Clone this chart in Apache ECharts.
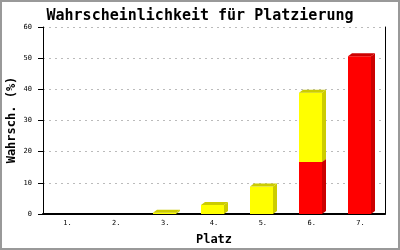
<!DOCTYPE html>
<html>
<head>
<meta charset="utf-8">
<script src="https://cdn.jsdelivr.net/npm/echarts@6/dist/echarts.min.js"></script>
<style>html,body{margin:0;padding:0;background:#fff}#c{width:400px;height:250px}</style>
</head>
<body>
<div id="c"></div>
<script>
const categories = ['1.', '2.', '3.', '4.', '5.', '6.', '7.'];
const redValues = [0, 0, 0, 0, 0, 16.7, 50.6];
const yellowValues = [0, 0, 0.4, 2.9, 8.8, 22.2, 0];
const yMin = 0, yMax = 60, yStep = 10;
const yAxisTitle = 'Wahrsch. (%)';

const redData = categories.map((c, i) => [i, 0, redValues[i]]);
const yellowData = categories.map((c, i) => [i, redValues[i], redValues[i] + yellowValues[i]]);

function makeRender(face, dark) {
  return function (params, api) {
    const x = api.value(0), lo = api.value(1), hi = api.value(2);
    if (!(hi > lo)) return;
    const p0 = api.coord([x, lo]);
    const p1 = api.coord([x, hi]);
    const band = api.size([1, 0])[0];
    const w = Math.round(band * 0.47);
    const left = Math.round(p0[0] - w / 2 - 1);
    const dx = 4, dy = 3;
    const yb = p0[1], yt = p1[1];
    return {
      type: 'group',
      children: [
        { type: 'rect', shape: { x: left, y: yt, width: w, height: yb - yt }, style: { fill: face } },
        { type: 'polygon', shape: { points: [[left + w, yt], [left + w + dx, yt - dy], [left + w + dx, yb - dy], [left + w, yb]] }, style: { fill: dark } },
        { type: 'polygon', shape: { points: [[left, yt], [left + dx, yt - dy], [left + w + dx, yt - dy], [left + w, yt]] }, style: { fill: dark } }
      ]
    };
  };
}

const chart = echarts.init(document.getElementById('c'), null, { renderer: 'canvas' });
const mono = 'DejaVu Sans Mono';
chart.setOption({
  animation: false,
  backgroundColor: '#fff',
  title: {
    text: 'Wahrscheinlichkeit für Platzierung',
    left: 'center', top: 4,
    textStyle: { fontFamily: mono, fontSize: 15, fontWeight: 'bold', color: '#000' }
  },
  graphic: [{
    type: 'rect', silent: true, z: 100,
    shape: { x: 1, y: 1, width: 398, height: 248 },
    style: { fill: 'none', stroke: '#999', lineWidth: 2 }
  }, {
    type: 'text', silent: true, x: 12, y: 120, rotation: Math.PI / 2,
    style: { text: yAxisTitle, fontFamily: mono, fontSize: 12, fontWeight: 'bold', fill: '#000', align: 'center', verticalAlign: 'middle' }
  }],
  grid: { left: 43, right: 15, top: 27, bottom: 36, containLabel: false, outerBoundsMode: 'none' },
  xAxis: {
    type: 'category', data: categories,
    name: 'Platz', nameLocation: 'middle', nameGap: 20,
    nameTextStyle: { fontFamily: mono, fontSize: 12, fontWeight: 'bold', color: '#000' },
    axisLine: { lineStyle: { color: '#000', width: 2 } },
    axisTick: { show: false },
    axisLabel: { fontFamily: mono, fontSize: 7, color: '#000', margin: 6 },
    splitLine: { show: false }
  },
  yAxis: [{
    type: 'value', min: yMin, max: yMax, interval: yStep,
    axisLine: { show: true, lineStyle: { color: '#000', width: 1 } },
    axisTick: { show: true, length: 5, lineStyle: { color: '#000' } },
    axisLabel: { fontFamily: mono, fontSize: 7, color: '#000', margin: 11 },
    splitLine: { show: true, lineStyle: { color: '#bbb', type: [2, 4], width: 1 } }
  }, {
    type: 'value', min: yMin, max: yMax, interval: yStep, position: 'right',
    axisLine: { show: true, onZero: false, lineStyle: { color: '#000', width: 1 } },
    axisTick: { show: false }, axisLabel: { show: false }, splitLine: { show: false }
  }],
  series: [
    { type: 'custom', renderItem: makeRender('#ff0000', '#cc0000'), encode: { x: 0, y: [1, 2] }, data: redData, z: 2 },
    { type: 'custom', renderItem: makeRender('#ffff00', '#cccc00'), encode: { x: 0, y: [1, 2] }, data: yellowData, z: 3 }
  ]
});
</script>
</body>
</html>
